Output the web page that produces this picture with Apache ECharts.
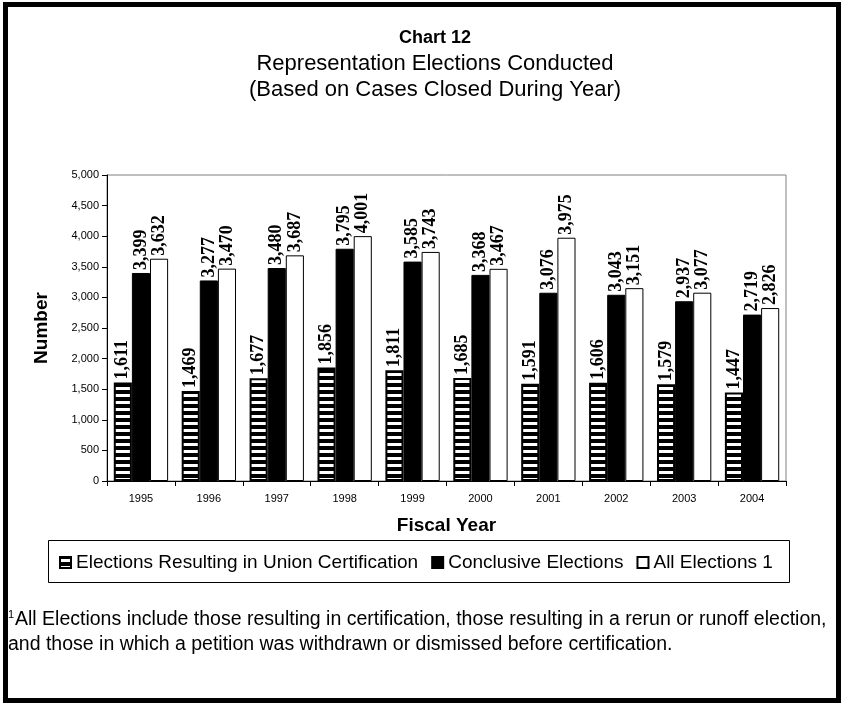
<!DOCTYPE html>
<html>
<head>
<meta charset="utf-8">
<script src="https://cdn.jsdelivr.net/npm/echarts@6/dist/echarts.min.js"></script>
<style>
  html, body { margin: 0; padding: 0; background: #fff; }
  #chart { width: 843px; height: 705px; }
</style>
</head>
<body>
<div id="chart"></div>
<script>
const years = ['1995', '1996', '1997', '1998', '1999', '2000', '2001', '2002', '2003', '2004'];
const unionCert = [1611, 1469, 1677, 1856, 1811, 1685, 1591, 1606, 1579, 1447];
const conclusive = [3399, 3277, 3480, 3795, 3585, 3368, 3076, 3043, 2937, 2719];
const allElections = [3632, 3470, 3687, 4001, 3743, 3467, 3975, 3151, 3077, 2826];
const seriesNames = ['Elections Resulting in Union Certification', 'Conclusive Elections', 'All Elections 1'];

const sans = 'Liberation Sans';
const serif = 'Liberation Serif';

// horizontal black/white stripes for the first series
function stripePattern() {
  const c = document.createElement('canvas');
  c.width = 8;
  c.height = 7;
  const ctx = c.getContext('2d');
  ctx.fillStyle = '#000';
  ctx.fillRect(0, 0, 8, 7);
  ctx.fillStyle = '#fff';
  ctx.fillRect(0, 2, 8, 3);
  return c;
}

const fmt = v => Number(v).toLocaleString('en-US');

const valueLabel = {
  show: true,
  position: 'top',
  rotate: 90,
  align: 'left',
  verticalAlign: 'middle',
  distance: 3,
  color: '#000',
  fontFamily: serif,
  fontWeight: 'bold',
  fontSize: 18,
  formatter: p => fmt(p.value)
};

const chart = echarts.init(document.getElementById('chart'));

const option = {
  animation: false,
  backgroundColor: '#fff',
  title: {
    text: 'Chart 12',
    subtext: 'Representation Elections Conducted\n(Based on Cases Closed During Year)',
    left: 430,
    top: 22,
    textAlign: 'center',
    itemGap: 2,
    textStyle: { fontFamily: sans, fontWeight: 'bold', fontSize: 18, lineHeight: 22, color: '#000' },
    subtextStyle: { fontFamily: sans, fontSize: 22, lineHeight: 26, color: '#000' }
  },
  grid: {
    left: 107,
    right: 57,
    top: 175,
    bottom: 224,
    show: true,
    borderColor: '#808080',
    borderWidth: 1
  },
  legend: {
    left: 54,
    top: 548,
    itemWidth: 11,
    itemHeight: 11,
    itemGap: 13,
    icon: 'rect',
    textStyle: { fontFamily: sans, fontSize: 19, color: '#000' },
    data: seriesNames
  },
  xAxis: {
    type: 'category',
    data: years,
    name: 'Fiscal Year',
    nameLocation: 'middle',
    nameGap: 35,
    nameTextStyle: { fontFamily: sans, fontWeight: 'bold', fontSize: 19, color: '#000' },
    axisLine: { lineStyle: { color: '#000', width: 1 } },
    axisTick: { show: true, length: 5, lineStyle: { color: '#000' } },
    axisLabel: { fontFamily: sans, fontSize: 11, color: '#000', margin: 12 }
  },
  yAxis: {
    type: 'value',
    min: 0,
    max: 5000,
    interval: 500,
    name: 'Number',
    nameLocation: 'middle',
    nameRotate: 90,
    nameGap: 56,
    nameTextStyle: { fontFamily: sans, fontWeight: 'bold', fontSize: 19, color: '#000' },
    axisLine: { show: true, lineStyle: { color: '#000', width: 1 } },
    axisTick: { show: true, length: 5, lineStyle: { color: '#000' } },
    axisLabel: { fontFamily: sans, fontSize: 11, color: '#000', margin: 8, formatter: fmt },
    splitLine: { show: false }
  },
  series: [
    {
      name: seriesNames[0],
      type: 'bar',
      data: unionCert,
      barGap: '0%',
      barCategoryGap: '20%',
      itemStyle: { color: { image: stripePattern(), repeat: 'repeat' }, borderColor: '#000', borderWidth: 2 },
      label: valueLabel
    },
    {
      name: seriesNames[1],
      type: 'bar',
      data: conclusive,
      itemStyle: { color: '#000', borderColor: '#000', borderWidth: 1 },
      label: valueLabel
    },
    {
      name: seriesNames[2],
      type: 'bar',
      data: allElections,
      itemStyle: { color: '#fff', borderColor: '#000', borderWidth: 1 },
      label: valueLabel
    }
  ],
  graphic: [
    {
      type: 'rect',
      shape: { x: 5.5, y: 4.5, width: 833, height: 696 },
      style: { fill: 'none', stroke: '#000', lineWidth: 5 },
      silent: true
    },
    {
      type: 'rect',
      shape: { x: 48.5, y: 540.5, width: 741, height: 42 },
      style: { fill: 'none', stroke: '#000', lineWidth: 1 },
      silent: true,
      z: -1
    },
    {
      type: 'text',
      left: 8,
      top: 609,
      style: { text: '1', fontFamily: sans, fontSize: 11, fill: '#000' }
    },
    {
      type: 'text',
      left: 15,
      top: 610,
      style: {
        text: 'All Elections include those resulting in certification, those resulting in a rerun or runoff election,',
        fontFamily: sans, fontSize: 19.5, fill: '#000'
      }
    },
    {
      type: 'text',
      left: 8,
      top: 635,
      style: {
        text: 'and those in which a petition was withdrawn or dismissed before certification.',
        fontFamily: sans, fontSize: 19.5, fill: '#000'
      }
    }
  ]
};

chart.setOption(option);
</script>
</body>
</html>
